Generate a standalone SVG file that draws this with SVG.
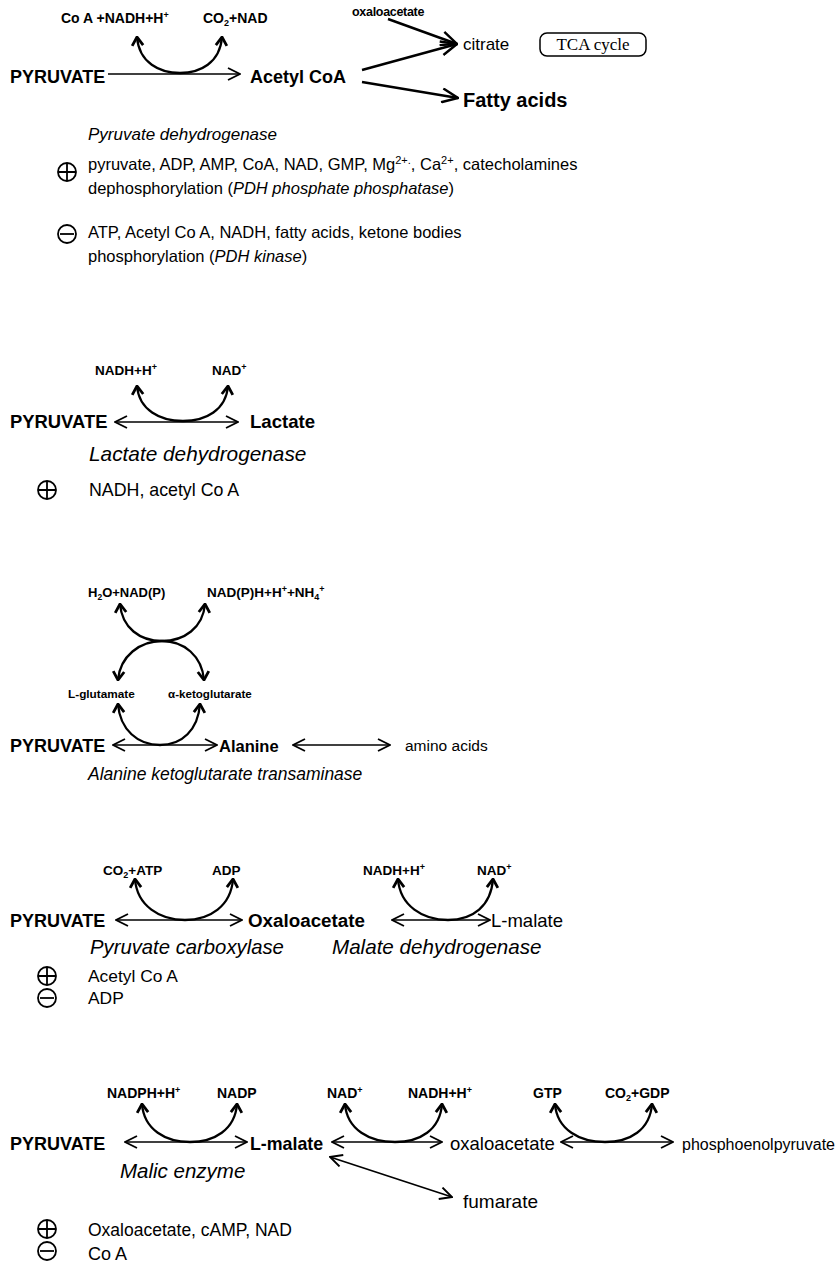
<svg xmlns="http://www.w3.org/2000/svg" width="836" height="1266" viewBox="0 0 836 1266">
<defs>
<style>
text{fill:#000}
.b{font-family:"Liberation Sans",Arial,sans-serif;font-weight:bold}
.r{font-family:"Liberation Sans",Arial,sans-serif}
.i{font-family:"Liberation Sans",Arial,sans-serif;font-style:italic}
.s{font-family:"Liberation Serif","Times New Roman",serif}
.ln{stroke:#000;fill:none;stroke-width:1.7}
.th{stroke:#000;fill:none;stroke-width:2.4}
.cv{stroke:#000;fill:none;stroke-width:2.3;marker-start:url(#ch);marker-end:url(#ch)}
.dbl{marker-start:url(#ar);marker-end:url(#ar)}
.one{marker-end:url(#ar)}
.sym{stroke:#000;fill:none;stroke-width:1.8}
</style>
<marker id="ar" viewBox="0 0 14 14" refX="13" refY="7" markerWidth="14" markerHeight="14" markerUnits="userSpaceOnUse" orient="auto-start-reverse">
<path d="M1,1 L13,7 L1,13" fill="none" stroke="#000" stroke-width="1.9"/>
</marker>
<marker id="arb" viewBox="0 0 18 16" refX="17" refY="8" markerWidth="18" markerHeight="16" markerUnits="userSpaceOnUse" orient="auto-start-reverse">
<path d="M1,1 L17,8 L1,15" fill="none" stroke="#000" stroke-width="2.4"/>
</marker>
<marker id="ch" viewBox="0 0 11 14" refX="10" refY="7" markerWidth="11" markerHeight="14" markerUnits="userSpaceOnUse" orient="auto-start-reverse">
<path d="M1.5,1.5 L10,7 L1.5,12.5" fill="none" stroke="#000" stroke-width="2.8"/>
</marker>
<g id="plus"><circle r="9" class="sym"/><path d="M-9,0 H9 M0,-9 V9" class="sym"/></g>
<g id="minus"><circle r="9" class="sym"/><path d="M-7,0 H7" class="sym" stroke-width="2.4"/></g>
</defs>
<rect width="836" height="1266" fill="#fff"/>

<g id="connectors">
<path class="cv" d="M137,37 C139,63 160,73 180,73 C200,73 220,63 222,37"/>
<line class="ln one" x1="108" y1="74" x2="240" y2="74"/>
<line class="th" x1="362" y1="70" x2="457" y2="44" marker-end="url(#arb)"/>
<line class="th" x1="388" y1="19" x2="457" y2="44" marker-end="url(#arb)"/>
<line class="th" x1="362" y1="82" x2="458" y2="98" marker-end="url(#arb)"/>
<path class="cv" d="M137,386 C139,410 160,421 183,421 C206,421 226,410 228,386"/>
<line class="ln dbl" x1="115" y1="422" x2="238" y2="422"/>
<path class="cv" d="M120,604 C122,628 140,641 162,641 C184,641 203,628 205,604"/>
<path class="cv" d="M118,680 C120,656 140,641 162,641 C184,641 202,656 204,680"/>
<path class="cv" d="M118,704 C120,730 138,745 160,745 C182,745 198,730 200,704"/>
<line class="ln dbl" x1="113" y1="745" x2="217" y2="745"/>
<line class="ln dbl" x1="293" y1="745" x2="390" y2="745"/>
<path class="cv" d="M135,879 C137,906 160,920 185,920 C210,920 231,906 233,879"/>
<line class="ln dbl" x1="116" y1="920" x2="242" y2="920"/>
<path class="cv" d="M398,879 C400,906 423,920 448,920 C473,920 491,906 493,879"/>
<line class="ln dbl" x1="392" y1="920" x2="490" y2="920"/>
<path class="cv" d="M142,1104 C144,1130 166,1142 190,1142 C214,1142 235,1130 237,1104"/>
<line class="ln dbl" x1="125" y1="1142" x2="247" y2="1142"/>
<path class="cv" d="M345,1104 C347,1130 370,1142 395,1142 C420,1142 440,1130 442,1104"/>
<line class="ln dbl" x1="332" y1="1142" x2="442" y2="1142"/>
<path class="cv" d="M555,1104 C557,1130 580,1142 605,1142 C630,1142 650,1130 652,1104"/>
<line class="ln dbl" x1="561" y1="1142" x2="673" y2="1142"/>
<line class="ln dbl" x1="330" y1="1157" x2="452" y2="1197"/>
</g>

<g id="s1-coa-nadh"><text class="b" x="61" y="23" font-size="14">Co A +NADH+H<tspan font-size="9" baseline-shift="super">+</tspan></text></g>
<g id="s1-co2-nad"><text class="b" x="203" y="23" font-size="14">CO<tspan font-size="9" baseline-shift="-3">2</tspan>+NAD</text></g>
<g id="s1-pyruvate"><text class="b" x="10" y="83" font-size="18">PYRUVATE</text></g>
<g id="s1-acetylcoa"><text class="b" x="250" y="83" font-size="18">Acetyl CoA</text></g>
<g id="s1-oxaloacetate"><text class="b" x="352" y="16" font-size="12.5" letter-spacing="-0.3">oxaloacetate</text></g>
<g id="s1-citrate"><text class="r" x="463" y="50" font-size="17">citrate</text></g>
<g id="s1-tca"><rect x="540" y="33" width="106" height="23" rx="7" fill="none" stroke="#000" stroke-width="1.5"/><text class="s" x="593" y="50" font-size="17" text-anchor="middle">TCA cycle</text></g>
<g id="s1-fatty"><text class="b" x="463" y="107" font-size="20">Fatty acids</text></g>
<g id="s1-enzyme"><text class="i" x="88" y="140" font-size="17">Pyruvate dehydrogenase</text></g>
<g id="s1-activators">
<use href="#plus" x="67" y="172"/>
<text class="r" x="88" y="170" font-size="16.5">pyruvate, ADP, AMP, CoA, NAD, GMP, Mg<tspan font-size="11" baseline-shift="super">2+.</tspan>, Ca<tspan font-size="11" baseline-shift="super">2+</tspan>, catecholamines</text>
<text class="r" x="88" y="194" font-size="16.5">dephosphorylation (<tspan class="i">PDH phosphate phosphatase</tspan>)</text>
</g>
<g id="s1-inhibitors">
<use href="#minus" x="67" y="234"/>
<text class="r" x="88" y="238" font-size="16.5">ATP, Acetyl Co A, NADH, fatty acids, ketone bodies</text>
<text class="r" x="88" y="262" font-size="16.5">phosphorylation (<tspan class="i">PDH kinase</tspan>)</text>
</g>

<g id="s2-nadh"><text class="b" x="95" y="375" font-size="13.5">NADH+H<tspan font-size="9" baseline-shift="super">+</tspan></text></g>
<g id="s2-nad"><text class="b" x="212" y="375" font-size="13.5">NAD<tspan font-size="9" baseline-shift="super">+</tspan></text></g>
<g id="s2-pyruvate"><text class="b" x="10" y="428" font-size="18.4">PYRUVATE</text></g>
<g id="s2-lactate"><text class="b" x="250" y="428" font-size="18.6">Lactate</text></g>
<g id="s2-enzyme"><text class="i" x="89" y="461" font-size="20.8">Lactate dehydrogenase</text></g>
<g id="s2-activators"><use href="#plus" x="47" y="490"/><text class="r" x="89" y="496" font-size="17.8">NADH, acetyl Co A</text></g>

<g id="s3-h2o"><text class="b" x="88" y="597" font-size="13">H<tspan font-size="8.5" baseline-shift="-3">2</tspan>O+NAD(P)</text></g>
<g id="s3-nadph"><text class="b" x="207" y="597" font-size="13.5">NAD(P)H+H<tspan font-size="9" baseline-shift="super">+</tspan>+NH<tspan font-size="9" baseline-shift="-3">4</tspan><tspan font-size="9" baseline-shift="super">+</tspan></text></g>
<g id="s3-glutamate"><text class="b" x="68" y="698" font-size="11.8">L-glutamate</text></g>
<g id="s3-ketoglutarate"><text class="b" x="168" y="698" font-size="11.6">α-ketoglutarate</text></g>
<g id="s3-pyruvate"><text class="b" x="10" y="752" font-size="18">PYRUVATE</text></g>
<g id="s3-alanine"><text class="b" x="219" y="752" font-size="16.5">Alanine</text></g>
<g id="s3-amino"><text class="r" x="405" y="751" font-size="15.5">amino acids</text></g>
<g id="s3-enzyme"><text class="i" x="88" y="780" font-size="17.5">Alanine ketoglutarate transaminase</text></g>

<g id="s4-co2atp"><text class="b" x="103" y="875" font-size="13.5">CO<tspan font-size="9" baseline-shift="-3">2</tspan>+ATP</text></g>
<g id="s4-adp"><text class="b" x="212" y="875" font-size="13.5">ADP</text></g>
<g id="s4-nadh"><text class="b" x="363" y="875" font-size="13.5">NADH+H<tspan font-size="9" baseline-shift="super">+</tspan></text></g>
<g id="s4-nad"><text class="b" x="477" y="875" font-size="13.5">NAD<tspan font-size="9" baseline-shift="super">+</tspan></text></g>
<g id="s4-pyruvate"><text class="b" x="10" y="927" font-size="18">PYRUVATE</text></g>
<g id="s4-oxaloacetate"><text class="b" x="248" y="927" font-size="18.8">Oxaloacetate</text></g>
<g id="s4-malate"><text class="r" x="491" y="927" font-size="18.5">L-malate</text></g>
<g id="s4-pc"><text class="i" x="90" y="954" font-size="20.3">Pyruvate carboxylase</text></g>
<g id="s4-mdh"><text class="i" x="332" y="954" font-size="20.6">Malate dehydrogenase</text></g>
<g id="s4-activators"><use href="#plus" x="47" y="976"/><text class="r" x="88" y="982" font-size="17.4">Acetyl Co A</text></g>
<g id="s4-inhibitors"><use href="#minus" x="47" y="998"/><text class="r" x="88" y="1004" font-size="17.4">ADP</text></g>

<g id="s5-nadph"><text class="b" x="107" y="1098" font-size="14">NADPH+H<tspan font-size="9" baseline-shift="super">+</tspan></text></g>
<g id="s5-nadp"><text class="b" x="217" y="1098" font-size="14">NADP</text></g>
<g id="s5-nad"><text class="b" x="327" y="1098" font-size="14">NAD<tspan font-size="9" baseline-shift="super">+</tspan></text></g>
<g id="s5-nadh"><text class="b" x="408" y="1098" font-size="14">NADH+H<tspan font-size="9" baseline-shift="super">+</tspan></text></g>
<g id="s5-gtp"><text class="b" x="533" y="1098" font-size="14">GTP</text></g>
<g id="s5-co2gdp"><text class="b" x="605" y="1098" font-size="14">CO<tspan font-size="9" baseline-shift="-3">2</tspan>+GDP</text></g>
<g id="s5-pyruvate"><text class="b" x="10" y="1150" font-size="18">PYRUVATE</text></g>
<g id="s5-malate"><text class="b" x="250" y="1150" font-size="17.8">L-malate</text></g>
<g id="s5-oxaloacetate"><text class="r" x="450" y="1150" font-size="18.5">oxaloacetate</text></g>
<g id="s5-pep"><text class="r" x="682" y="1150" font-size="16">phosphoenolpyruvate</text></g>
<g id="s5-enzyme"><text class="i" x="120" y="1178" font-size="20.5">Malic enzyme</text></g>
<g id="s5-fumarate"><text class="r" x="463" y="1208" font-size="19">fumarate</text></g>
<g id="s5-activators"><use href="#plus" x="47" y="1229"/><text class="r" x="88" y="1236" font-size="17.5">Oxaloacetate, cAMP, NAD</text></g>
<g id="s5-inhibitors"><use href="#minus" x="47" y="1251"/><text class="r" x="88" y="1260" font-size="18">Co A</text></g>
</svg>
